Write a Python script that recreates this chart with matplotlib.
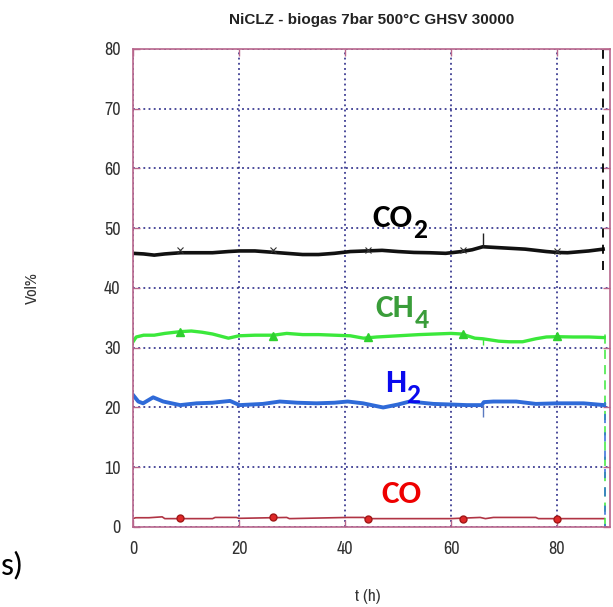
import numpy as np
import matplotlib
matplotlib.use('Agg')
import matplotlib.pyplot as plt

# values (t in hours, Vol%)
co2_t = [0, 2, 4, 6, 9, 12, 15, 18, 20, 23, 26, 29, 32, 35, 38, 41, 44, 47, 50,
         53, 56, 59, 62, 64, 66, 68, 70, 72, 74, 76, 78, 80, 82, 84, 86, 88.7]
co2_v = [45.8, 45.7, 45.5, 45.7, 45.9, 45.9, 45.9, 46.1, 46.2, 46.2, 46.0, 45.8,
         45.6, 45.6, 45.8, 46.1, 46.2, 46.3, 46.1, 45.95, 45.9, 45.8, 46.1, 46.4,
         46.9, 46.8, 46.7, 46.6, 46.5, 46.3, 46.1, 45.95, 45.9, 46.05, 46.2, 46.5]

ch4_t = [0, 0.6, 2, 4, 6, 9, 11, 13, 15, 18, 20, 23, 26.5, 29, 32, 35, 38, 41,
         43.5, 46, 50, 54, 57, 60, 62, 64.5, 66, 67.5, 69, 71, 73.5, 76, 78, 80,
         83, 86, 88.9]
ch4_v = [31.0, 31.8, 32.1, 32.1, 32.4, 32.7, 32.8, 32.6, 32.3, 31.6, 32.0, 32.1,
         32.1, 32.4, 32.2, 32.2, 32.1, 32.0, 31.6, 31.8, 32.0, 32.2, 32.3, 32.4,
         32.3, 31.6, 31.5, 31.3, 31.1, 31.0, 31.0, 31.5, 31.8, 31.85, 31.8, 31.8,
         31.7]

h2_t = [0, 1, 1.9, 3.8, 5.7, 8.9, 12, 15, 18.3, 20.1, 24.5, 27.7, 31, 34.6,
        38, 40.5, 43.4, 47.2, 50, 52.2, 56.7, 60, 63, 65.8, 66.2, 68, 72.3, 76,
        80, 85, 88.9]
h2_v = [22.1, 21.0, 20.7, 21.7, 21.0, 20.4, 20.7, 20.8, 21.1, 20.4, 20.6, 21.0,
        20.8, 20.7, 20.8, 21.0, 20.7, 20.0, 20.5, 21.0, 20.6, 20.5, 20.4, 20.4,
        20.9, 21.0, 21.0, 20.6, 20.7, 20.7, 20.4]

co_t = [0, 0.5, 3, 5.5, 6, 15, 15.5, 19.5, 20, 26, 29, 29.5, 40.5, 43.5, 44,
        60, 65.5, 66.5, 68, 76, 76.5, 88.9]
co_v = [1.4, 1.55, 1.55, 1.7, 1.4, 1.4, 1.6, 1.6, 1.45, 1.55, 1.6, 1.4, 1.6,
        1.6, 1.4, 1.4, 1.6, 1.4, 1.6, 1.6, 1.4, 1.4]

# marker positions on the traces
mk_t = [8.8, 26.5, 44.4, 62.2, 80.0]
co2_mk = [46.4, 46.3, 46.4, 46.3, 46.2]
ch4_mk = [32.7, 32.0, 31.8, 32.3, 31.9]
co_mk = [1.45, 1.65, 1.4, 1.4, 1.4]

# short glitch at t = 66 h
glitch_t = 66.0
glitch_co2 = (46.9, 49.2)
glitch_ch4 = (31.6, 30.4)
glitch_h2 = (20.4, 18.4)

# end of run, analyser switched off
end_t = 88.8
end_co2 = (43.0, 80.0)
end_ch4 = (0.0, 32.5)
end_h2 = (0.0, 21.0)

labels = ['CO', 'CH', 'H', 'CO']
subs = ['2', '4', '2', '']
label_x = [45.1, 45.7, 47.5, 46.9]
label_y = [50.2, 35.1, 22.6, 4.0]
label_col = ['#000000', '#3a9d3a', '#0a0aee', '#ee0000']

spine_col = '#b8668c'
grid_col = '#1c1c80'
narrow = ['Archivo Narrow', 'DejaVu Sans']

fig = plt.figure(figsize=(6.13, 6.07), dpi=100)
ax = fig.add_axes([0.217, 0.1318, 0.7781, 0.7875])

ax.plot(co2_t, co2_v, color='#111111', lw=2.6, solid_joinstyle='round')
ax.plot(ch4_t, ch4_v, color='#3be83b', lw=2.4)
ax.plot(h2_t, h2_v, color='#2f6ad8', lw=2.8)
ax.plot(co_t, co_v, color='#b03444', lw=1.2)

ax.plot(mk_t, co2_mk, ls='none', marker='x', ms=4, mew=0.8, color='#333333')
ax.plot(mk_t, ch4_mk, ls='none', marker='^', ms=6, color='#2fd02f')
ax.plot(mk_t, co_mk, ls='none', marker='o', ms=5, mfc='#e02828',
        mec='#a01818', mew=1)

ax.vlines(glitch_t, *glitch_co2, color='#222222', lw=1)
ax.vlines(glitch_t, *glitch_ch4, color='#3be83b', lw=1)
ax.vlines(glitch_t, *glitch_h2, color='#5a7ac0', lw=1)

ax.vlines(end_t - 0.2, *end_co2, color='black', lw=1.3, linestyles=(0, (5, 4)))
ax.vlines(end_t + 0.3, *end_ch4, color='#3be83b', lw=1.1, linestyles=(0, (6, 4)))
ax.vlines(end_t + 0.3, *end_h2, color='#2f6ad8', lw=1.1, linestyles=(4, (6, 6)))

for txt, sb, x, y, c in zip(labels, subs, label_x, label_y, label_col):
    t = ax.text(x, y, txt, color=c, fontsize=24, fontweight='bold',
                family='Carlito', ha='left', va='baseline')
    if sb:
        ax.annotate(sb, xy=(1, 0), xycoords=t, xytext=(0.5, -4),
                    textcoords='offset points', color=c, fontsize=20,
                    fontweight='bold', family='Carlito', ha='left', va='baseline')

ax.set_xlim(0, 90)
ax.set_ylim(0, 80)
ax.set_xticks([0, 20, 40, 60, 80])
ax.set_yticks(np.arange(0, 81, 10))
ax.grid(True, color=grid_col, ls=(0, (1.2, 2.2)), lw=1.1)
for s in ax.spines.values():
    s.set_color(spine_col)
    s.set_linewidth(1.2)
ax.tick_params(direction='in', length=5, width=1, color=spine_col,
               top=True, right=True, labelsize=13, labelcolor='#333333')
ax.tick_params(axis='x', pad=10)
ax.tick_params(axis='y', pad=9)
for lab in ax.get_xticklabels() + ax.get_yticklabels():
    lab.set_family(narrow)

ax.set_title('NiCLZ - biogas 7bar 500°C GHSV 30000', fontsize=11,
             fontweight='bold', family='Liberation Sans', color='#222222', pad=18)
fig.text(32 / 613, 1 - 288 / 607, 'Vol%', rotation=90, ha='center', va='center',
         fontsize=12, family=narrow, color='#333333')
fig.text(368 / 613, 1 - 597 / 607, 't (h)', ha='center', va='center',
         fontsize=12.5, family=narrow, color='#333333')
fig.text(0.002, 0.054, 's)', ha='left', va='baseline', fontsize=24,
         family='Carlito', color='black')

fig.savefig('out.png', dpi=100)
